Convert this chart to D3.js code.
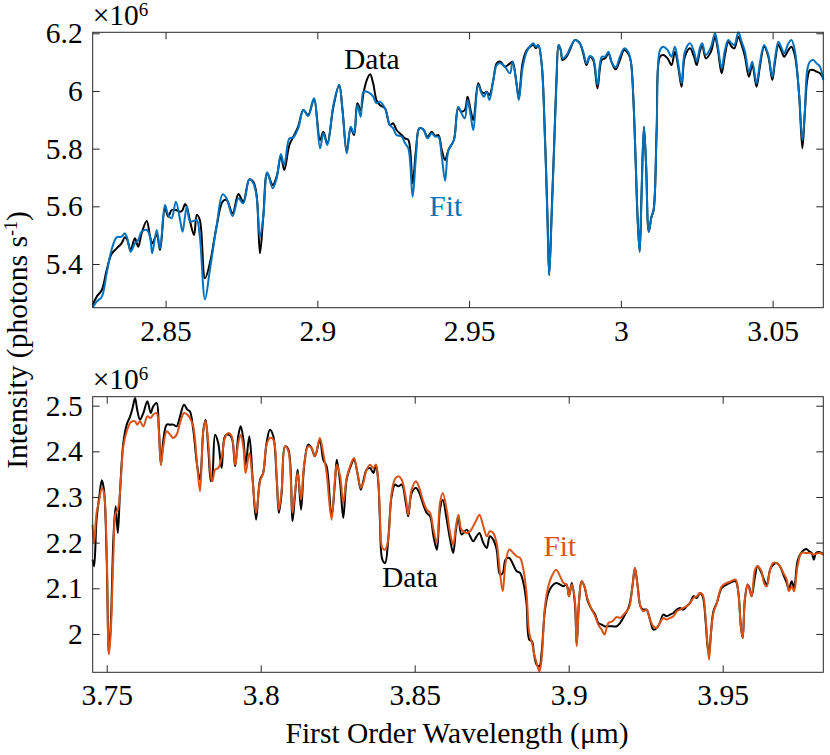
<!DOCTYPE html>
<html>
<head>
<meta charset="utf-8">
<script src="https://cdn.jsdelivr.net/npm/d3@7"></script>
<style>
  svg text { font-family: 'Liberation Serif', Tinos, 'Times New Roman', serif; }
</style>
</head>
<body style="margin:0">
<svg id="chart" width="830" height="755"></svg>
<script>
// Upper panel: wavelength (um) and intensity (x10^6 photons/s)
const topWavelength = [
  2.8260, 2.8273, 2.8290, 2.8306, 2.8322, 2.8339, 2.8355, 2.8366, 2.8374, 2.8385,
  2.8399, 2.8410, 2.8421, 2.8438, 2.8449, 2.8456, 2.8471, 2.8482, 2.8498, 2.8509,
  2.8520, 2.8534, 2.8548, 2.8556, 2.8564, 2.8570, 2.8581, 2.8594, 2.8603, 2.8613,
  2.8630, 2.8646, 2.8668, 2.8688, 2.8701, 2.8721, 2.8740, 2.8756, 2.8776, 2.8789,
  2.8800, 2.8811, 2.8822, 2.8835, 2.8853, 2.8866, 2.8880, 2.8891, 2.8908, 2.8921,
  2.8937, 2.8954, 2.8970, 2.8989, 2.9009, 2.9020, 2.9033, 2.9053, 2.9072, 2.9083,
  2.9097, 2.9110, 2.9121, 2.9132, 2.9143, 2.9152, 2.9163, 2.9174, 2.9184, 2.9195,
  2.9206, 2.9223, 2.9239, 2.9250, 2.9261, 2.9278, 2.9289, 2.9300, 2.9314, 2.9325,
  2.9336, 2.9349, 2.9363, 2.9377, 2.9388, 2.9399, 2.9410, 2.9421, 2.9432, 2.9450,
  2.9464, 2.9475, 2.9486, 2.9495, 2.9505, 2.9514, 2.9530, 2.9541, 2.9549, 2.9558,
  2.9567, 2.9580, 2.9591, 2.9604, 2.9618, 2.9635, 2.9643, 2.9657, 2.9664, 2.9676,
  2.9690, 2.9701, 2.9712, 2.9720, 2.9728, 2.9739, 2.9750, 2.9758, 2.9764, 2.9772,
  2.9780, 2.9788, 2.9795, 2.9802, 2.9808, 2.9821, 2.9832, 2.9849, 2.9865, 2.9876,
  2.9887, 2.9898, 2.9909, 2.9923, 2.9937, 2.9948, 2.9959, 2.9969, 2.9983, 2.9997,
  3.0011, 3.0024, 3.0033, 3.0041, 3.0049, 3.0055, 3.0062, 3.0068, 3.0076, 3.0083,
  3.0092, 3.0101, 3.0108, 3.0118, 3.0129, 3.0140, 3.0154, 3.0167, 3.0178, 3.0189,
  3.0200, 3.0211, 3.0228, 3.0241, 3.0250, 3.0260, 3.0268, 3.0280, 3.0297, 3.0310,
  3.0319, 3.0332, 3.0343, 3.0354, 3.0365, 3.0374, 3.0387, 3.0398, 3.0409, 3.0422,
  3.0433, 3.0447, 3.0458, 3.0472, 3.0486, 3.0499, 3.0508, 3.0519, 3.0530, 3.0538,
  3.0552, 3.0562, 3.0573, 3.0587, 3.0598, 3.0606, 3.0614, 3.0623, 3.0634, 3.0645,
  3.0656, 3.0667
];
const topData = [
  5.2577, 5.2866, 5.3097, 5.3791, 5.4346, 5.4542, 5.4716, 5.4924, 5.4832, 5.4484,
  5.4889, 5.4600, 5.5062, 5.5490, 5.4947, 5.4716, 5.5005, 5.4484, 5.5930, 5.5640,
  5.5872, 5.5872, 5.5814, 5.5872, 5.6080, 5.5988, 5.5467, 5.5005, 5.5698, 5.5525,
  5.3502, 5.4022, 5.5294, 5.6161, 5.6218, 5.5756, 5.6427, 5.6161, 5.6935, 5.6854,
  5.6392, 5.4369, 5.5640, 5.7143, 5.6739, 5.7028, 5.7744, 5.7259, 5.8126, 5.8415,
  5.8762, 5.9340, 5.9166, 5.9721, 5.8299, 5.8588, 5.8184, 5.9455, 6.0207, 5.9340,
  5.7895, 5.8704, 5.8473, 5.9571, 5.9340, 5.9918, 6.0380, 6.0577, 6.0264, 5.9686,
  5.9513, 5.9397, 5.8819, 5.8877, 5.8646, 5.8473, 5.8357, 5.8299, 5.6798, 5.7952,
  5.8704, 5.8669, 5.8415, 5.8588, 5.8438, 5.8473, 5.7952, 5.7606, 5.7952, 5.8299,
  5.9397, 5.9282, 5.9340, 5.9802, 5.9340, 5.8993, 6.0264, 5.9975, 5.9918, 5.9975,
  5.9860, 6.0380, 6.0958, 6.1016, 6.0842, 6.0958, 6.1016, 6.0207, 5.9744, 6.0958,
  6.1420, 6.1536, 6.1594, 6.1478, 6.1594, 6.0958, 5.8415, 5.5756, 5.3618, 5.5756,
  5.8068, 6.0380, 6.1594, 6.1420, 6.1074, 6.1189, 6.1420, 6.1767, 6.1652, 6.1305,
  6.0900, 6.1189, 6.1074, 6.0091, 6.1074, 6.1131, 6.1305, 6.1016, 6.0750, 6.1074,
  6.1420, 6.1305, 6.1016, 5.9802, 5.7490, 5.5640, 5.4427, 5.6334, 5.8762, 5.7490,
  5.5120, 5.5640, 5.5872, 5.8646, 6.1189, 6.1247, 6.1131, 6.0900, 6.1363, 6.0842,
  6.0149, 6.1189, 6.1478, 6.1189, 6.0900, 6.1363, 6.1594, 6.1131, 6.1363, 6.1883,
  6.1478, 6.0611, 6.1247, 6.1709, 6.1536, 6.1478, 6.1883, 6.1594, 6.1189, 6.0496,
  6.0900, 6.0149, 6.0842, 6.1536, 6.1189, 6.0380, 6.1016, 6.1594, 6.1363, 6.1189,
  6.1420, 6.1536, 6.1247, 5.9918, 5.8010, 5.9224, 6.0380, 6.0727, 6.0727, 6.0669,
  6.0611, 6.0438
];
const topFit = [
  5.2496, 5.2693, 5.2866, 5.3675, 5.4484, 5.4924, 5.4947, 5.5062, 5.4889, 5.4427,
  5.4716, 5.4832, 5.5120, 5.5178, 5.4947, 5.4369, 5.5178, 5.4542, 5.6045, 5.5698,
  5.5583, 5.6161, 5.5525, 5.5120, 5.5640, 5.5988, 5.5467, 5.5502, 5.5525, 5.4947,
  5.2774, 5.3791, 5.5294, 5.6415, 5.6276, 5.5664, 5.6276, 5.6103, 5.6935, 5.6798,
  5.6334, 5.4947, 5.5640, 5.7178, 5.6623, 5.6970, 5.7814, 5.7432, 5.8357, 5.8392,
  5.8704, 5.9340, 5.9132, 5.9744, 5.8010, 5.8530, 5.8126, 5.9513, 6.0207, 5.9340,
  5.7837, 5.8762, 5.8530, 5.9513, 5.9108, 5.9975, 5.9975, 5.9918, 5.9802, 5.9571,
  5.9629, 5.9397, 5.8819, 5.8704, 5.8473, 5.8415, 5.8184, 5.8010, 5.6334, 5.7721,
  5.8704, 5.8669, 5.8357, 5.8530, 5.8415, 5.8415, 5.7721, 5.6889, 5.7952, 5.8299,
  5.9455, 5.9224, 5.9051, 5.9686, 5.9166, 5.8646, 6.0207, 5.9918, 5.9802, 5.9975,
  5.9686, 6.0380, 6.0900, 6.0958, 6.0842, 6.0611, 6.1016, 6.0207, 5.9686, 6.0785,
  6.1363, 6.1559, 6.1652, 6.1536, 6.1594, 6.0958, 5.8299, 5.5640, 5.3618, 5.5640,
  5.7952, 6.0322, 6.1594, 6.1420, 6.1131, 6.1247, 6.1478, 6.1767, 6.1652, 6.1363,
  6.0958, 6.1212, 6.1131, 6.0207, 6.1189, 6.1189, 6.1363, 6.1016, 6.0819, 6.1189,
  6.1478, 6.1363, 6.1016, 5.9802, 5.7490, 5.5640, 5.4427, 5.6334, 5.8762, 5.7490,
  5.5120, 5.5640, 5.5872, 5.8646, 6.1420, 6.1536, 6.1420, 6.1189, 6.1536, 6.0958,
  6.0264, 6.1363, 6.1652, 6.1363, 6.1016, 6.1478, 6.1652, 6.1247, 6.1536, 6.1998,
  6.1594, 6.0785, 6.1420, 6.1767, 6.1652, 6.1594, 6.2035, 6.1709, 6.1363, 6.0669,
  6.1016, 6.0264, 6.0958, 6.1594, 6.1247, 6.0496, 6.1131, 6.1709, 6.1478, 6.1305,
  6.1652, 6.1767, 6.1420, 5.9918, 5.8299, 5.9224, 6.0727, 6.1016, 6.1074, 6.0958,
  6.0842, 6.0380
];

// Lower panel
const bottomWavelength = [
  3.7454, 3.7459, 3.7467, 3.7476, 3.7484, 3.7491, 3.7500, 3.7507, 3.7513, 3.7522,
  3.7529, 3.7536, 3.7543, 3.7554, 3.7565, 3.7576, 3.7584, 3.7592, 3.7599, 3.7608,
  3.7619, 3.7632, 3.7643, 3.7651, 3.7662, 3.7669, 3.7676, 3.7684, 3.7695, 3.7706,
  3.7716, 3.7727, 3.7738, 3.7751, 3.7762, 3.7770, 3.7781, 3.7794, 3.7803, 3.7814,
  3.7821, 3.7830, 3.7838, 3.7843, 3.7852, 3.7862, 3.7873, 3.7884, 3.7895, 3.7906,
  3.7917, 3.7927, 3.7935, 3.7944, 3.7951, 3.7963, 3.7974, 3.7985, 3.7998, 3.8008,
  3.8019, 3.8030, 3.8041, 3.8052, 3.8059, 3.8068, 3.8079, 3.8090, 3.8103, 3.8111,
  3.8120, 3.8131, 3.8141, 3.8154, 3.8165, 3.8176, 3.8192, 3.8203, 3.8214, 3.8230,
  3.8241, 3.8247, 3.8258, 3.8268, 3.8279, 3.8290, 3.8303, 3.8314, 3.8325, 3.8333,
  3.8344, 3.8355, 3.8366, 3.8374, 3.8382, 3.8387, 3.8395, 3.8404, 3.8414, 3.8425,
  3.8436, 3.8447, 3.8458, 3.8472, 3.8479, 3.8490, 3.8504, 3.8515, 3.8526, 3.8539,
  3.8550, 3.8561, 3.8572, 3.8582, 3.8591, 3.8604, 3.8615, 3.8625, 3.8634, 3.8642,
  3.8652, 3.8669, 3.8680, 3.8690, 3.8701, 3.8710, 3.8723, 3.8734, 3.8744, 3.8755,
  3.8766, 3.8777, 3.8786, 3.8795, 3.8807, 3.8820, 3.8831, 3.8842, 3.8853, 3.8863,
  3.8872, 3.8881, 3.8887, 3.8896, 3.8905, 3.8912, 3.8923, 3.8934, 3.8945, 3.8959,
  3.8972, 3.8983, 3.8993, 3.9001, 3.9010, 3.9020, 3.9026, 3.9034, 3.9042, 3.9051,
  3.9062, 3.9075, 3.9086, 3.9096, 3.9107, 3.9116, 3.9129, 3.9142, 3.9156, 3.9167,
  3.9183, 3.9196, 3.9207, 3.9215, 3.9224, 3.9233, 3.9242, 3.9253, 3.9264, 3.9275,
  3.9286, 3.9296, 3.9307, 3.9318, 3.9329, 3.9340, 3.9351, 3.9361, 3.9372, 3.9383,
  3.9394, 3.9405, 3.9416, 3.9426, 3.9435, 3.9445, 3.9451, 3.9456, 3.9462, 3.9470,
  3.9481, 3.9497, 3.9513, 3.9527, 3.9542, 3.9551, 3.9559, 3.9565, 3.9572, 3.9581,
  3.9587, 3.9594, 3.9605, 3.9613, 3.9626, 3.9634, 3.9643, 3.9654, 3.9664, 3.9675,
  3.9686, 3.9697, 3.9708, 3.9715, 3.9724, 3.9732, 3.9743, 3.9756, 3.9771, 3.9781,
  3.9789, 3.9796, 3.9803, 3.9816, 3.9827
];
const bottomData = [
  2.1628, 2.1482, 2.2504, 2.3015, 2.3365, 2.3161, 2.1628, 1.9584, 2.0168, 2.2139,
  2.2796, 2.2212, 2.3088, 2.4183, 2.4585, 2.4767, 2.4950, 2.5168, 2.4913, 2.4694,
  2.4840, 2.5096, 2.4840, 2.4986, 2.5059, 2.4548, 2.3708, 2.4256, 2.4585, 2.4585,
  2.4585, 2.4548, 2.4767, 2.5023, 2.4913, 2.4877, 2.4475, 2.3672, 2.3380, 2.4475,
  2.4694, 2.4037, 2.3344, 2.3453, 2.4366, 2.4183, 2.3635, 2.4329, 2.4366, 2.4293,
  2.3672, 2.4329, 2.4548, 2.4256, 2.3708, 2.4329, 2.3380, 2.2504, 2.3380, 2.3526,
  2.4183, 2.4475, 2.4329, 2.3380, 2.2650, 2.3088, 2.4110, 2.4037, 2.2467, 2.3015,
  2.3599, 2.2723, 2.3672, 2.4147, 2.4074, 2.3891, 2.4256, 2.3818, 2.3672, 2.2577,
  2.3307, 2.3818, 2.3307, 2.2540, 2.3380, 2.3635, 2.3818, 2.3526, 2.3161, 2.3344,
  2.3599, 2.3635, 2.3526, 2.3708, 2.3307, 2.2504, 2.1628, 2.1555, 2.2066, 2.3015,
  2.3271, 2.3234, 2.3271, 2.2833, 2.2577, 2.3088, 2.3198, 2.3088, 2.2869, 2.2650,
  2.2577, 2.2139, 2.1847, 2.2723, 2.2942, 2.2504, 2.2066, 2.1774, 2.2285, 2.2577,
  2.2176, 2.2285, 2.2139, 2.2030, 2.2139, 2.2212, 2.1993, 2.1884, 2.2139, 2.2066,
  2.1847, 2.1300, 2.1336, 2.1628, 2.1665, 2.1518, 2.1373, 2.1336, 2.1117, 2.0679,
  1.9876, 1.9840, 1.9584, 1.9328, 1.9292, 1.9584, 2.0533, 2.0898, 2.1044, 2.1117,
  2.1081, 2.1044, 2.1081, 2.0825, 2.1117, 2.0679, 1.9767, 2.0752, 2.1154, 2.1044,
  2.0716, 2.0533, 2.0424, 2.0241, 2.0205, 2.0168, 2.0168, 2.0168, 2.0168, 2.0241,
  2.0424, 2.0606, 2.1044, 2.1446, 2.1044, 2.0606, 2.0533, 2.0533, 2.0314, 2.0095,
  2.0132, 2.0241, 2.0424, 2.0387, 2.0424, 2.0460, 2.0533, 2.0570, 2.0533, 2.0606,
  2.0679, 2.0825, 2.0789, 2.0898, 2.0825, 2.0241, 1.9730, 1.9584, 2.0022, 2.0497,
  2.0679, 2.1008, 2.1081, 2.1132, 2.1154, 2.0898, 2.0168, 1.9913, 2.0752, 2.1081,
  2.1008, 2.0825, 2.1263, 2.1482, 2.1336, 2.1190, 2.1081, 2.1409, 2.1518, 2.1555,
  2.1482, 2.1300, 2.1117, 2.0971, 2.1154, 2.1008, 2.1592, 2.1789, 2.1862, 2.1810,
  2.1774, 2.1628, 2.1774, 2.1789, 2.1738
];
const bottomFit = [
  2.2395, 2.1993, 2.2650, 2.2942, 2.3198, 2.3088, 2.1774, 1.9548, 2.0022, 2.1774,
  2.2650, 2.2723, 2.3088, 2.4110, 2.4439, 2.4621, 2.4658, 2.4658, 2.4585, 2.4658,
  2.4548, 2.4767, 2.4731, 2.4804, 2.4840, 2.4475, 2.3708, 2.4110, 2.4439, 2.4366,
  2.4293, 2.4366, 2.4621, 2.4840, 2.4804, 2.4731, 2.4548, 2.3672, 2.3125, 2.4475,
  2.4658, 2.4183, 2.3453, 2.3344, 2.3599, 2.3635, 2.3855, 2.4293, 2.4402, 2.4329,
  2.3708, 2.4183, 2.4366, 2.4074, 2.3526, 2.3964, 2.3344, 2.2650, 2.3344, 2.3526,
  2.4147, 2.4293, 2.4256, 2.3417, 2.2723, 2.3161, 2.4110, 2.4001, 2.2650, 2.3088,
  2.3526, 2.2942, 2.3708, 2.4110, 2.4074, 2.3891, 2.4293, 2.3964, 2.3526, 2.2504,
  2.3380, 2.3708, 2.3453, 2.2869, 2.3417, 2.3672, 2.3855, 2.3526, 2.3198, 2.3307,
  2.3599, 2.3708, 2.3635, 2.3708, 2.3344, 2.2650, 2.1884, 2.1847, 2.2066, 2.3088,
  2.3395, 2.3453, 2.3380, 2.2942, 2.2613, 2.3161, 2.3344, 2.3198, 2.2942, 2.2723,
  2.2650, 2.2285, 2.1993, 2.2869, 2.3088, 2.2723, 2.2212, 2.1957, 2.2358, 2.2613,
  2.2285, 2.2212, 2.2248, 2.2358, 2.2504, 2.2613, 2.2358, 2.2139, 2.2248, 2.2212,
  2.1993, 2.1336, 2.0935, 2.1555, 2.1847, 2.1774, 2.1701, 2.1665, 2.1409, 2.0898,
  2.0022, 1.9803, 1.9584, 1.9365, 1.9182, 1.9438, 2.0606, 2.1044, 2.1263, 2.1409,
  2.1263, 2.1117, 2.1081, 2.0825, 2.1081, 2.0752, 1.9730, 2.0752, 2.1154, 2.1044,
  2.0752, 2.0533, 2.0387, 2.0205, 2.0095, 1.9986, 2.0241, 2.0278, 2.0373, 2.0351,
  2.0460, 2.0570, 2.1044, 2.1446, 2.1044, 2.0606, 2.0497, 2.0533, 2.0314, 2.0168,
  2.0132, 2.0241, 2.0351, 2.0314, 2.0351, 2.0387, 2.0497, 2.0533, 2.0570, 2.0606,
  2.0679, 2.0789, 2.0825, 2.0898, 2.0862, 2.0314, 1.9730, 1.9438, 2.0022, 2.0460,
  2.0679, 2.1044, 2.1117, 2.1154, 2.1190, 2.0898, 2.0168, 1.9913, 2.0752, 2.1081,
  2.0971, 2.0825, 2.1409, 2.1482, 2.1373, 2.1117, 2.1044, 2.1409, 2.1555, 2.1555,
  2.1482, 2.1336, 2.1190, 2.0935, 2.1044, 2.0935, 2.1482, 2.1774, 2.1774, 2.1774,
  2.1760, 2.1738, 2.1760, 2.1774, 2.1738
];

// Axis ranges and ticks
const topXDomain = [2.826, 3.0667];
const topYDomain = [5.2484, 6.2035];
const topXTicks = [2.85, 2.9, 2.95, 3, 3.05];
const topYTicks = [5.4, 5.6, 5.8, 6, 6.2];
const bottomXDomain = [3.74545, 3.98267];
const bottomYDomain = [1.916, 2.5197];
const bottomXTicks = [3.75, 3.8, 3.85, 3.9, 3.95];
const bottomYTicks = [2, 2.1, 2.2, 2.3, 2.4, 2.5];

const DATA_COLOR = '#000000';
const FIT_BLUE = '#0072BD';
const FIT_ORANGE = '#D95319';
const AXIS_COLOR = '#262626';
const FONT = "'Liberation Serif', Tinos, 'Times New Roman', serif";
const FONT_SIZE = 29.5;

const svg = d3.select('#chart');
const left = 92.7;
const right = 823.3;

/**
 * Append a text in the chart font
 */
function addText(parent, size) {
  return parent.append('text')
    .attr('font-family', FONT)
    .style('font-family', FONT)
    .style('font-size', size + 'px');
}

/**
 * Draw one boxed panel with inward ticks, two spectra and annotations
 */
function drawPanel(opts) {
  const x = d3.scaleLinear().domain(opts.xDomain).range([left, right]);
  const y = d3.scaleLinear().domain(opts.yDomain).range([opts.bottom, opts.top]);
  const g = svg.append('g');

  // axes: labels on bottom/left, bare ticks on top/right
  const fmt = d3.format('~g');
  const styleAxis = sel => {
    sel.attr('font-family', FONT);
    sel.select('.domain').remove();
    sel.selectAll('.tick line').attr('stroke', AXIS_COLOR);
    sel.selectAll('.tick text')
      .attr('fill', '#000')
      .attr('font-family', FONT)
      .style('font-family', FONT)
      .style('font-size', FONT_SIZE + 'px');
  };
  g.append('g')
    .attr('transform', `translate(0,${opts.bottom})`)
    .call(d3.axisBottom(x).tickValues(opts.xTicks).tickFormat(fmt).tickSizeInner(-7).tickSizeOuter(0).tickPadding(12))
    .call(styleAxis);
  g.append('g')
    .attr('transform', `translate(0,${opts.top})`)
    .call(d3.axisTop(x).tickValues(opts.xTicks).tickFormat('').tickSizeInner(-7).tickSizeOuter(0))
    .call(styleAxis);
  g.append('g')
    .attr('transform', `translate(${left},0)`)
    .call(d3.axisLeft(y).tickValues(opts.yTicks).tickFormat(fmt).tickSizeInner(-7).tickSizeOuter(0).tickPadding(10))
    .call(styleAxis);
  g.append('g')
    .attr('transform', `translate(${right},0)`)
    .call(d3.axisRight(y).tickValues(opts.yTicks).tickFormat('').tickSizeInner(-7).tickSizeOuter(0))
    .call(styleAxis);

  // spectra
  const line = d3.line()
    .x(d => x(d[0]))
    .y(d => y(d[1]))
    .curve(d3.curveCatmullRom.alpha(0.5));
  const dataPts = opts.wavelength.map((w, i) => [w, opts.data[i]]);
  const fitPts = opts.wavelength.map((w, i) => [w, opts.fit[i]]);

  g.append('path')
    .attr('d', line(dataPts))
    .attr('fill', 'none')
    .attr('stroke', DATA_COLOR)
    .attr('stroke-width', 2)
    .attr('stroke-linejoin', 'round');
  g.append('path')
    .attr('d', line(fitPts))
    .attr('fill', 'none')
    .attr('stroke', opts.fitColor)
    .attr('stroke-width', 2)
    .attr('stroke-linejoin', 'round');

  g.append('rect')
    .attr('x', left)
    .attr('y', opts.top)
    .attr('width', right - left)
    .attr('height', opts.bottom - opts.top)
    .attr('fill', 'none')
    .attr('stroke', AXIS_COLOR)
    .attr('stroke-width', 1);

  // exponent label
  const expo = addText(g, FONT_SIZE)
    .attr('x', left)
    .attr('y', opts.top - 7.3);
  expo.append('tspan').text('\u00d710');
  expo.append('tspan').attr('dy', -9).style('font-size', '19px').text('6');

  // annotations
  addText(g, FONT_SIZE)
    .attr('x', x(opts.dataLabel[0]))
    .attr('y', y(opts.dataLabel[1]))
    .attr('fill', DATA_COLOR)
    .text('Data');
  addText(g, FONT_SIZE)
    .attr('x', x(opts.fitLabel[0]))
    .attr('y', y(opts.fitLabel[1]))
    .attr('fill', opts.fitColor)
    .text('Fit');
}

drawPanel({
  top: 32.3,
  bottom: 307.7,
  xDomain: topXDomain,
  yDomain: topYDomain,
  xTicks: topXTicks,
  yTicks: topYTicks,
  wavelength: topWavelength,
  data: topData,
  fit: topFit,
  fitColor: FIT_BLUE,
  dataLabel: [2.9088, 6.077],
  fitLabel: [2.9369, 5.567]
});

drawPanel({
  top: 396.7,
  bottom: 672.3,
  xDomain: bottomXDomain,
  yDomain: bottomYDomain,
  xTicks: bottomXTicks,
  yTicks: bottomYTicks,
  wavelength: bottomWavelength,
  data: bottomData,
  fit: bottomFit,
  fitColor: FIT_ORANGE,
  dataLabel: [3.8394, 2.102],
  fitLabel: [3.8918, 2.170]
});

// shared axis titles
addText(svg, FONT_SIZE)
  .attr('x', 457)
  .attr('y', 743)
  .attr('text-anchor', 'middle')
  .text('First Order Wavelength (\u03bcm)');

const yTitle = addText(svg, FONT_SIZE)
  .attr('transform', 'translate(27,340) rotate(-90)')
  .attr('text-anchor', 'middle');
yTitle.append('tspan').text('Intensity (photons s');
yTitle.append('tspan').attr('dy', -10).style('font-size', '18px').text('-1');
yTitle.append('tspan').attr('dy', 10).text(')');
</script>
</body>
</html>
